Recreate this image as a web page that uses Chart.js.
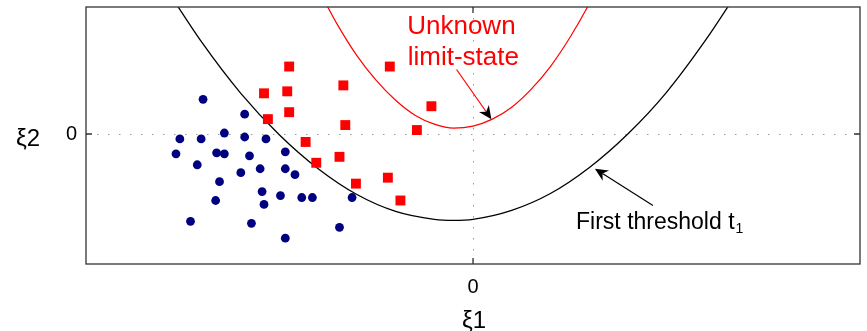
<!DOCTYPE html>
<html lang="en">
<head>
<meta charset="UTF-8">
<title>Limit-state and first threshold</title>
<script src="https://cdn.jsdelivr.net/npm/chart.js"></script>
<style>
    body { margin: 0; background: #fff; }
    #chart { display: block; }
</style>
</head>
<body>
<canvas id="chart" width="867" height="331"></canvas>
<script>
    // samples in the safe domain (blue dots)
    const safeX = [-2.79, -2.36, -2.57, -3.03, -2.81, -2.36, -2.14, -3.07, -2.65, -2.57,
                   -2.31, -1.94, -2.85, -2.20, -1.94, -2.40, -1.84, -2.62, -2.18, -1.99,
                   -1.77, -1.66, -1.25, -2.66, -2.16, -2.92, -2.29, -1.38, -1.94];
    const safeY = [0.35, 0.20, 0.01, -0.05, -0.05, -0.03, -0.05, -0.20, -0.19, -0.20,
                   -0.22, -0.18, -0.31, -0.35, -0.35, -0.39, -0.41, -0.48, -0.58, -0.62,
                   -0.64, -0.64, -0.64, -0.67, -0.71, -0.88, -0.90, -0.94, -1.05];

    // samples beyond the first threshold (red squares)
    const failX = [-1.90, -0.86, -1.34, -2.16, -1.92, -0.43, -1.90, -2.12, -1.32, -0.58,
                   -1.73, -1.38, -1.62, -0.88, -1.21, -0.75];
    const failY = [0.68, 0.68, 0.49, 0.41, 0.43, 0.28, 0.22, 0.15, 0.09, 0.04,
                   -0.08, -0.23, -0.29, -0.44, -0.50, -0.67];

    // first threshold t1 (black curve)
    const thresholdX = [-3.2, -2.8, -2.4, -2.0, -1.6, -1.2, -0.8, -0.4, -0.2, 0.0,
                        0.4, 0.8, 1.2, 1.6, 2.0, 2.4, 2.8];
    const thresholdY = [1.51, 0.92, 0.41, -0.01, -0.35, -0.61, -0.78, -0.86, -0.87, -0.86,
                        -0.77, -0.60, -0.34, 0.00, 0.42, 0.94, 1.53];

    // unknown limit-state (red curve)
    const limitX = [-1.6, -1.4, -1.2, -1.0, -0.8, -0.6, -0.4, -0.2, 0.0, 0.2,
                    0.4, 0.6, 0.8, 1.0, 1.2, 1.4];
    const limitY = [1.46, 1.10, 0.79, 0.54, 0.34, 0.19, 0.10, 0.06, 0.08, 0.15,
                    0.27, 0.45, 0.68, 0.97, 1.31, 1.70];

    const xTicks = [0];
    const yTicks = [0];

    const pts = (xs, ys) => xs.map((v, i) => ({ x: v, y: ys[i] }));

    Chart.defaults.font.family = '"Liberation Sans", Arial, sans-serif';
    Chart.defaults.color = '#000';

    function drawArrow(ctx, x1, y1, x2, y2, lineColor, headColor) {
        const ang = Math.atan2(y2 - y1, x2 - x1);
        const len = 13, half = 6, back = 9;
        ctx.strokeStyle = lineColor;
        ctx.lineWidth = 1.2;
        ctx.beginPath();
        ctx.moveTo(x1, y1);
        ctx.lineTo(x2 - Math.cos(ang) * back, y2 - Math.sin(ang) * back);
        ctx.stroke();
        ctx.save();
        ctx.translate(x2, y2);
        ctx.rotate(ang);
        ctx.fillStyle = headColor;
        ctx.beginPath();
        ctx.moveTo(0, 0);
        ctx.lineTo(-len, -half);
        ctx.lineTo(-back, 0);
        ctx.lineTo(-len, half);
        ctx.closePath();
        ctx.fill();
        ctx.restore();
    }

    // no extra room for half tick labels at the ends of the axes
    function noPadding(s) {
        s.paddingTop = 0; s.paddingBottom = 0;
        s.paddingLeft = 0; s.paddingRight = 0;
    }

    const decorations = {
        id: 'decorations',
        afterDraw(chart) {
            const { ctx, chartArea: a, scales: { x, y } } = chart;
            const x0 = x.getPixelForValue(0);
            const y0 = y.getPixelForValue(0);
            ctx.save();

            // axes box with inward ticks
            ctx.strokeStyle = '#333';
            ctx.lineWidth = 1.3;
            ctx.strokeRect(a.left, a.top, a.right - a.left, a.bottom - a.top);
            ctx.beginPath();
            ctx.moveTo(x0, a.bottom); ctx.lineTo(x0, a.bottom - 6);
            ctx.moveTo(x0, a.top); ctx.lineTo(x0, a.top + 6);
            ctx.moveTo(a.left, y0); ctx.lineTo(a.left + 6, y0);
            ctx.moveTo(a.right, y0); ctx.lineTo(a.right - 6, y0);
            ctx.stroke();

            // axis titles
            ctx.fillStyle = '#000';
            ctx.font = '24px "Liberation Sans", Arial, sans-serif';
            ctx.textBaseline = 'alphabetic';
            ctx.textAlign = 'center';
            ctx.fillText('ξ1', x0 + 1, a.bottom + 64);
            ctx.textAlign = 'left';
            ctx.fillText('ξ2', 16, y0 + 12);

            // labels
            ctx.fillStyle = '#ff0000';
            ctx.font = '26px "Liberation Sans", Arial, sans-serif';
            ctx.textAlign = 'center';
            ctx.fillText('Unknown', x.getPixelForValue(-0.12), y.getPixelForValue(1.01));
            ctx.fillText('limit-state', x.getPixelForValue(-0.10), y.getPixelForValue(0.70));

            ctx.fillStyle = '#000';
            ctx.font = '23px "Liberation Sans", Arial, sans-serif';
            ctx.textAlign = 'left';
            const tx = x.getPixelForValue(1.065), ty = y.getPixelForValue(-0.96);
            const main = 'First threshold t';
            ctx.fillText(main, tx, ty);
            const w = ctx.measureText(main).width;
            ctx.font = '14px "Liberation Sans", Arial, sans-serif';
            ctx.fillText('1', tx + w + 1, ty + 4);

            // arrows
            drawArrow(ctx, x.getPixelForValue(-0.17), y.getPixelForValue(0.65),
                      x.getPixelForValue(0.19), y.getPixelForValue(0.15), '#ff0000', '#000');
            drawArrow(ctx, x.getPixelForValue(1.86), y.getPixelForValue(-0.72),
                      x.getPixelForValue(1.26), y.getPixelForValue(-0.35), '#000', '#000');
            ctx.restore();
        }
    };

    new Chart(document.getElementById('chart'), {
        type: 'scatter',
        data: {
            datasets: [
                {
                    label: 'safe',
                    data: pts(safeX, safeY),
                    backgroundColor: '#000080',
                    borderColor: '#000080',
                    pointRadius: 4.4,
                    pointBorderWidth: 0,
                    order: 1
                },
                {
                    label: 'fail',
                    data: pts(failX, failY),
                    pointStyle: 'rect',
                    backgroundColor: '#ff0000',
                    borderColor: '#ff0000',
                    pointRadius: 7,
                    pointBorderWidth: 0,
                    order: 1
                },
                {
                    label: 'threshold',
                    type: 'line',
                    data: pts(thresholdX, thresholdY),
                    borderColor: '#000',
                    borderWidth: 1.3,
                    pointRadius: 0,
                    cubicInterpolationMode: 'monotone',
                    fill: false,
                    order: 2
                },
                {
                    label: 'limit-state',
                    type: 'line',
                    data: pts(limitX, limitY),
                    borderColor: '#ff0000',
                    borderWidth: 1.2,
                    pointRadius: 0,
                    cubicInterpolationMode: 'monotone',
                    fill: false,
                    order: 2
                }
            ]
        },
        options: {
            responsive: false,
            animation: false,
            layout: { padding: { left: 0, right: 4, top: 5, bottom: 0 } },
            plugins: { legend: { display: false }, tooltip: { enabled: false } },
            scales: {
                x: {
                    type: 'linear',
                    min: -4, max: 4,
                    afterBuildTicks: s => { s.ticks = xTicks.map(v => ({ value: v })); },
                    afterFit: s => { s.height = 67; noPadding(s); },
                    ticks: { padding: 11, font: { size: 20 } },
                    grid: { color: '#9a9a9a', lineWidth: 1, drawTicks: false },
                    border: { display: false, dash: [1.5, 9.5] }
                },
                y: {
                    type: 'linear',
                    min: -1.31, max: 1.28,
                    afterBuildTicks: s => { s.ticks = yTicks.map(v => ({ value: v })); },
                    afterFit: s => { s.width = 86; noPadding(s); },
                    ticks: { padding: 9, font: { size: 20 } },
                    grid: { color: '#9a9a9a', lineWidth: 1, drawTicks: false },
                    border: { display: false, dash: [1.5, 9.5] }
                }
            }
        },
        plugins: [decorations]
    });
</script>
</body>
</html>
